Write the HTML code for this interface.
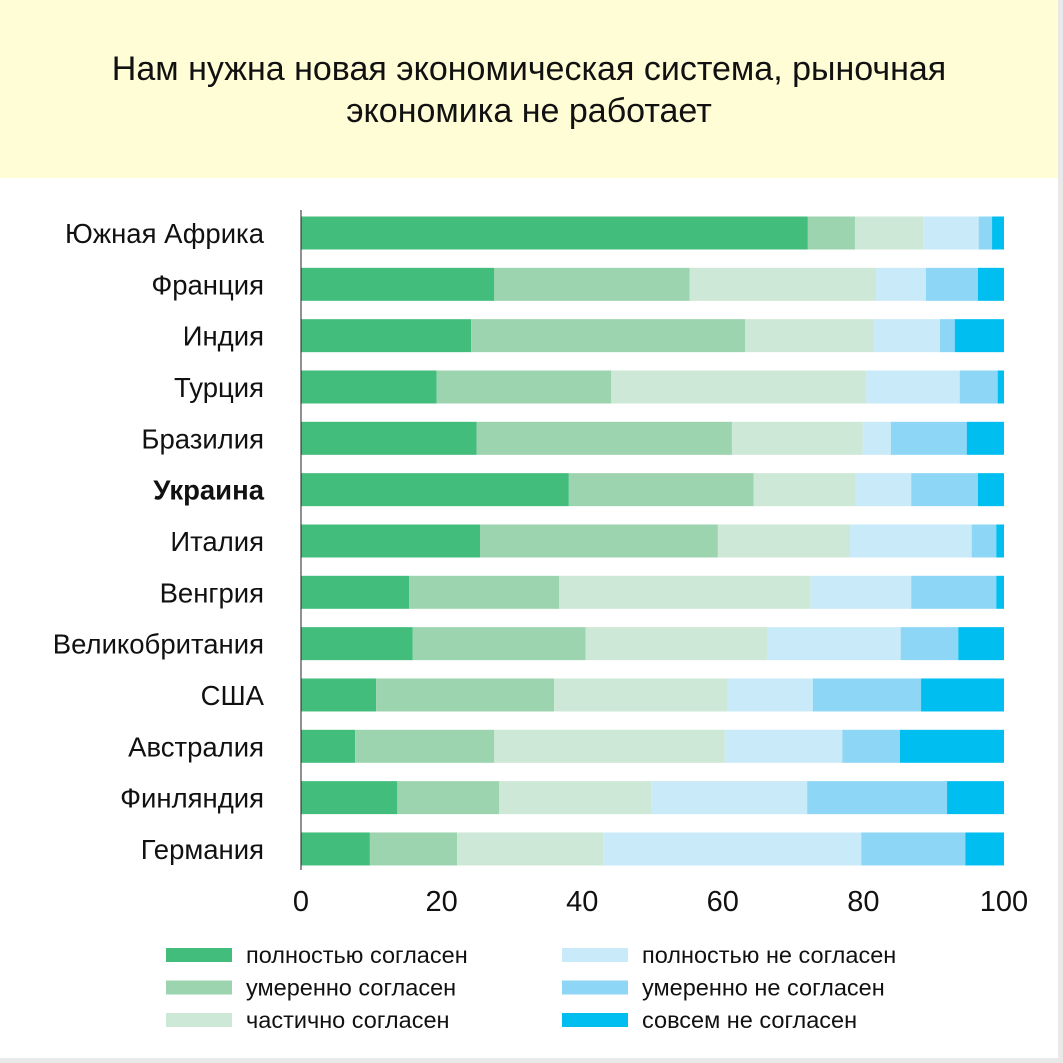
<!DOCTYPE html>
<html><head><meta charset="utf-8"><style>
body{margin:0;width:1063px;height:1063px;background:#e9e9e9;font-family:"Liberation Sans",sans-serif;overflow:hidden}
#wrap{position:absolute;left:0;top:0;width:1058px;height:1058px;background:#fff}
#title{position:absolute;left:0;top:0;width:1058px;height:178px;background:#fffdd6;text-align:center;font-size:34px;line-height:42px;color:#111;box-sizing:border-box;padding-top:48px}
</style></head><body>
<div id="wrap">
<div id="title">Нам нужна новая экономическая система, рыночная<br>экономика не работает</div>
<svg id="svg" width="1058" height="1058" style="position:absolute;left:0;top:0"></svg>
</div>
<script>
const categories=["Южная Африка","Франция","Индия","Турция","Бразилия","Украина","Италия","Венгрия","Великобритания","США","Австралия","Финляндия","Германия"];
const seriesNames=["полностью согласен","умеренно согласен","частично согласен","полностью не согласен","умеренно не согласен","совсем не согласен"];
const s1=[72.1,27.5,24.2,19.3,25.0,38.1,25.5,15.4,15.9,10.7,7.7,13.7,9.8];
const s2=[6.7,27.8,39.0,24.8,36.3,26.3,33.8,21.3,24.6,25.3,19.8,14.5,12.4];
const s3=[9.7,26.5,18.3,36.3,18.6,14.4,18.8,35.8,25.9,24.6,32.8,21.6,20.8];
const s4=[7.9,7.1,9.4,13.3,4.0,8.0,17.3,14.3,18.9,12.2,16.7,22.2,36.7];
const s5=[1.9,7.4,2.1,5.4,10.8,9.5,3.5,12.1,8.2,15.4,8.2,19.9,14.8];
const s6=[1.7,3.7,7.0,0.9,5.3,3.7,1.1,1.1,6.5,11.8,14.8,8.1,5.5];
const ticks=[0,20,40,60,80,100];
const colors=["#43bd7c","#9bd4ae","#cde8d6","#c8eaf9","#8dd6f5","#00bff0"];
const svg=document.getElementById('svg');const NS="http://www.w3.org/2000/svg";
const x=v=>301+v*7.03, yc=i=>233+i*51.33;
function mk(t,a,txt){const e=document.createElementNS(NS,t);for(const k in a)e.setAttribute(k,a[k]);if(txt!=null)e.textContent=txt;svg.appendChild(e);return e;}
const series=[s1,s2,s3,s4,s5,s6];
categories.forEach((c,i)=>{let acc=0;
 series.forEach((s,j)=>{const r=mk('rect',{x:x(acc),y:yc(i)-16.5,width:x(acc+s[i])-x(acc),height:33,fill:colors[j]});
 
 
 acc+=s[i];});
 const t=mk('text',{x:264,y:yc(i)+10,'text-anchor':'end','font-size':27.5,fill:'#111','font-weight':c==="Украина"?'bold':'normal'},c);
 
 
});
const ax=mk('line',{x1:301,y1:210,x2:301,y2:870,stroke:'#222','stroke-width':1});


ticks.forEach(v=>{const t=mk('text',{x:x(v),y:911,'text-anchor':'middle','font-size':29,fill:'#111'},String(v));
 
 });
seriesNames.forEach((n,j)=>{const col=j<3?0:1,row=j%3;const lx=col?562:166,ly=948+row*32.5;
 const r=mk('rect',{x:lx,y:ly,width:66,height:14,fill:colors[j]});
 
 
 const t=mk('text',{x:lx+80,y:ly+15,'font-size':23.5,fill:'#111'},n);
 
 });
</script>
</body></html>
